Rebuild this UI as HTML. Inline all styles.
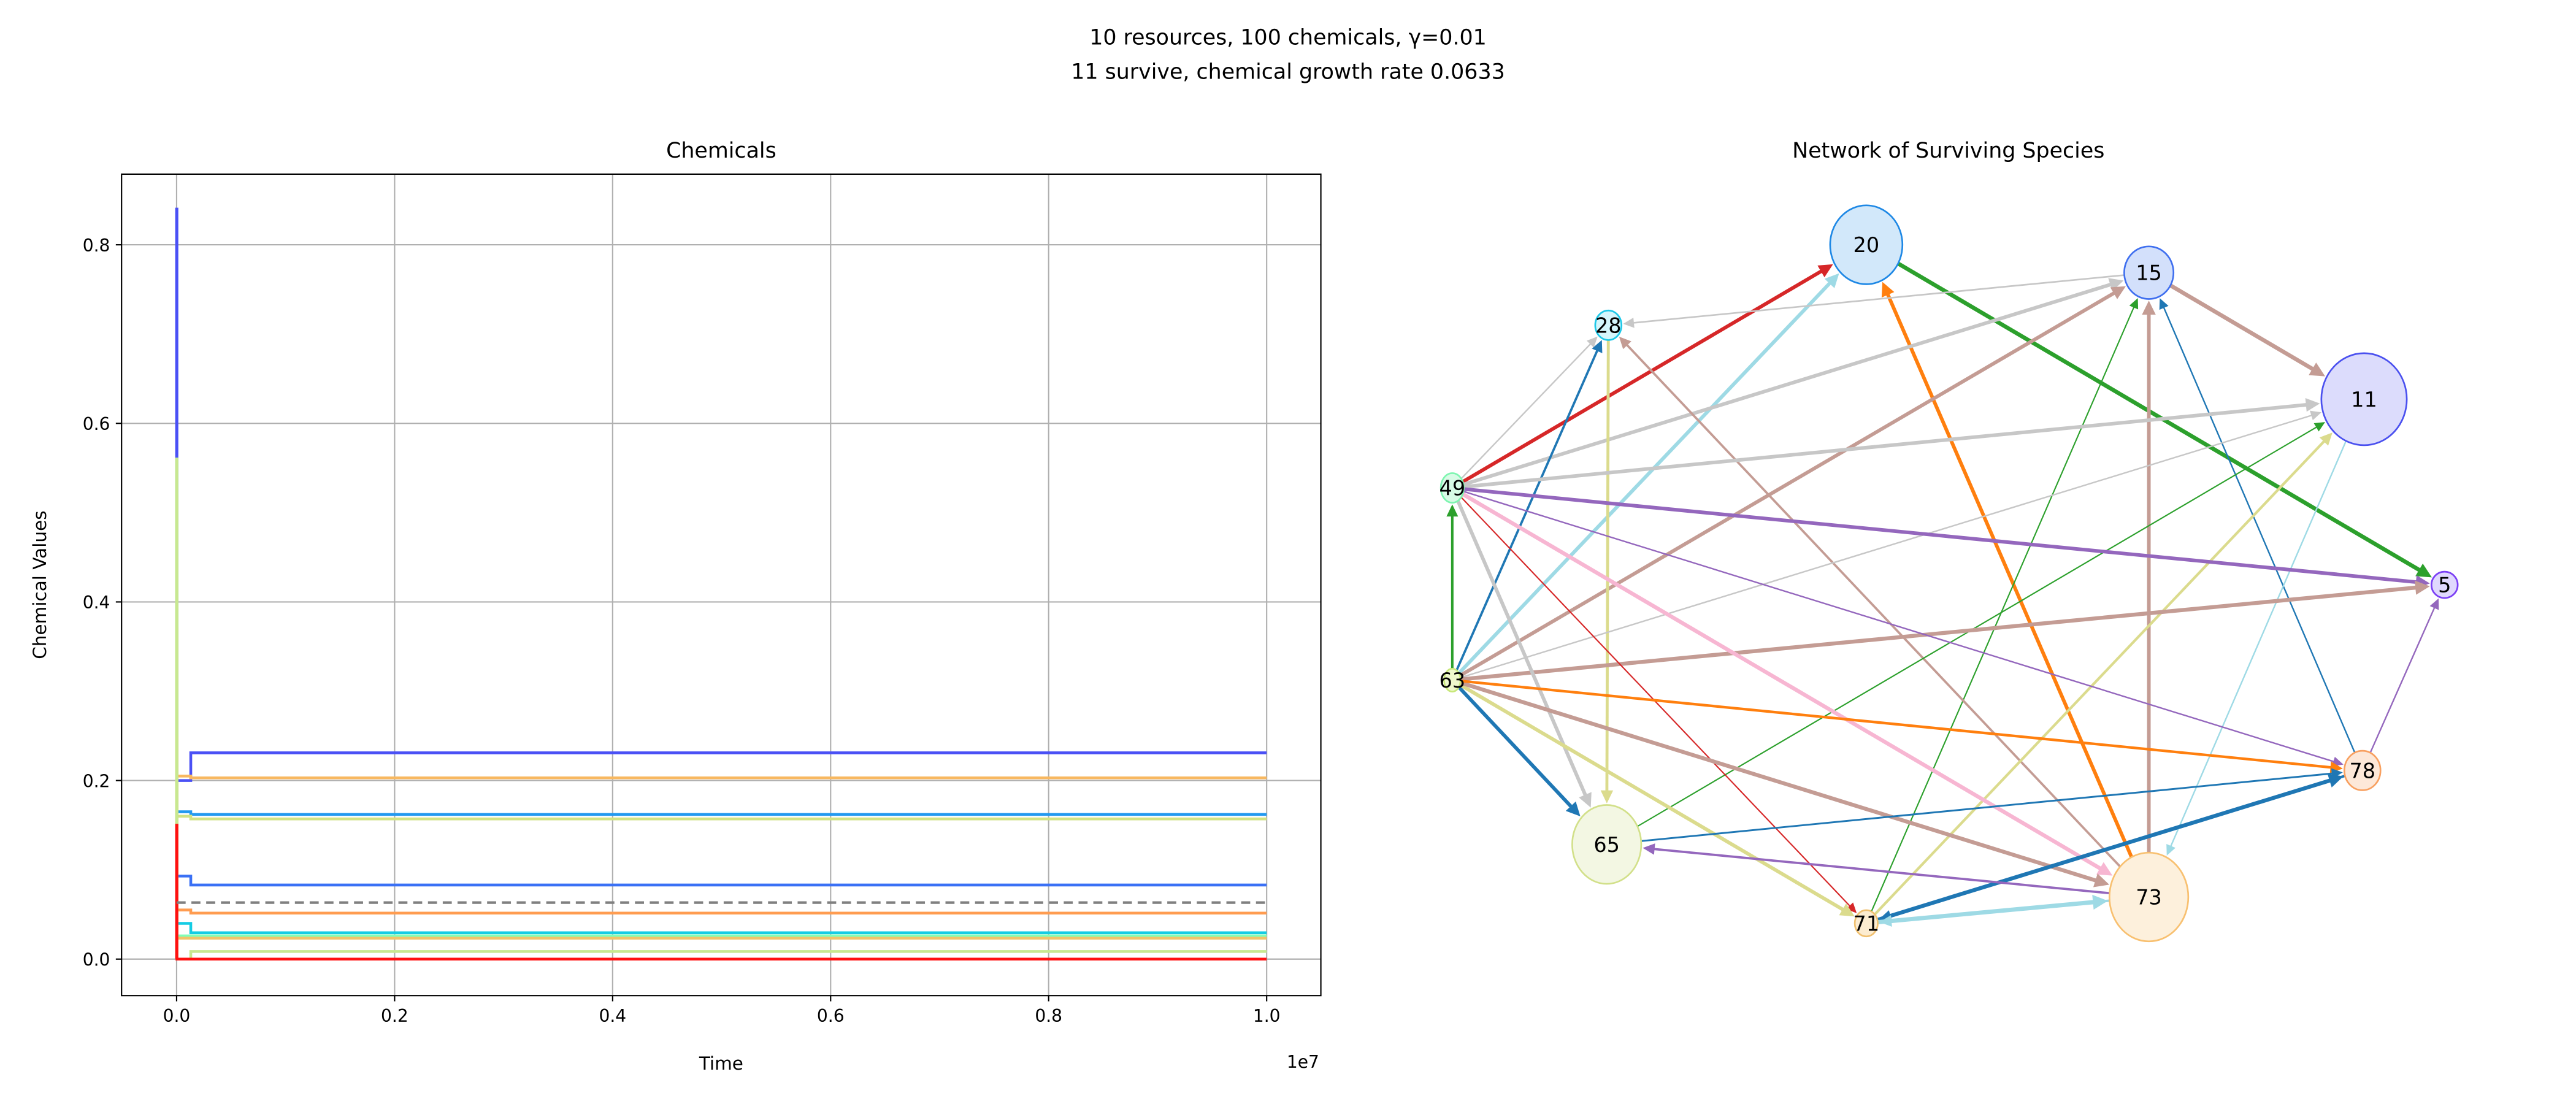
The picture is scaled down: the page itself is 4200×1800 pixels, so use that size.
<!DOCTYPE html>
<html><head><meta charset="utf-8"><style>
html,body{margin:0;padding:0;background:#fff}
svg{display:block;font-family:"DejaVu Sans","Liberation Sans",sans-serif}
</style></head><body>
<svg id="fig" width="4200" height="1800" viewBox="0 0 1568 672" xmlns="http://www.w3.org/2000/svg">
<text x="784" y="27" font-size="13" text-anchor="middle">10 resources, 100 chemicals, γ=0.01</text>
<text x="784" y="48" font-size="13" text-anchor="middle">11 survive, chemical growth rate 0.0633</text>
<text x="439" y="96" font-size="13" text-anchor="middle">Chemicals</text>
<text x="1186" y="96" font-size="13" text-anchor="middle">Network of Surviving Species</text>
<g id="grid"></g>
<g id="lines"></g>
<rect x="74" y="106" width="730" height="500" fill="none" stroke="#000" stroke-width="0.8"/>
<g id="ticks" font-size="10.5"></g>
<text x="28" y="356" font-size="11" text-anchor="middle" transform="rotate(-90 28 356)">Chemical Values</text>
<text x="439" y="651" font-size="11" text-anchor="middle">Time</text>
<text x="803" y="650" font-size="10.5" text-anchor="end">1e7</text>
<g id="edges"></g>
<g id="nodes"></g>
</svg>
<script>
const times=[0,3000,30000,130000,10000000];
const seriesColors=["#4a50f5","#f8b860","#2299f0","#d2e284","#3a70f5","#ff9c50","#14cce4","#80ffb8","#f0c46a","#c8e890","#ff1010"];
const seriesSpike=[0.84,0.45,0.30,0.52,0.09,0.37,0.10,0.56,0.25,0.56,0.15];
const seriesMid=[0.20,0.205,0.165,0.16,0.093,0.055,0.04,0.026,0.0235,0.0,0.0];
const seriesFinal=[0.231,0.203,0.162,0.157,0.083,0.0515,0.0295,0.026,0.0235,0.0085,0.0];
const refValue=0.0633;
const xTicks=[0,0.2,0.4,0.6,0.8,1.0];
const yTicks=[0.0,0.2,0.4,0.6,0.8];
const NS="http://www.w3.org/2000/svg";
const X=t=>107.5+(t/1e7)*(771-107.5);
const Y=v=>583.8-(v/0.8)*(583.8-149);
function mk(tag,attrs,parent){const e=document.createElementNS(NS,tag);for(const k in attrs)e.setAttribute(k,attrs[k]);parent.appendChild(e);return e;}
const grid=document.getElementById('grid'),ticks=document.getElementById('ticks'),lines=document.getElementById('lines');
xTicks.forEach(v=>{const x=X(v*1e7);
 const g=mk('line',{x1:x,x2:x,y1:106,y2:606,stroke:'#b0b0b0','stroke-width':0.8},grid);
 
 mk('line',{x1:x,x2:x,y1:606,y2:609.5,stroke:'#000','stroke-width':0.8},ticks);
 const t=mk('text',{x:x,y:622,'text-anchor':'middle'},ticks);t.textContent=v.toFixed(1);
 });
yTicks.forEach(v=>{const y=Y(v);
 const g=mk('line',{x1:74,x2:804,y1:y,y2:y,stroke:'#b0b0b0','stroke-width':0.8},grid);
 
 mk('line',{x1:70.5,x2:74,y1:y,y2:y,stroke:'#000','stroke-width':0.8},ticks);
 const t=mk('text',{x:67,y:y+4,'text-anchor':'end'},ticks);t.textContent=v.toFixed(1);
 });
seriesColors.forEach((c,i)=>{
 const vals=[seriesSpike[i],seriesMid[i],seriesMid[i],seriesFinal[i],seriesFinal[i]];
 let d=`M${X(times[0])},${Y(0)} L${X(times[0])},${Y(vals[0])}`;
 for(let k=1;k<times.length;k++){d+=` L${X(times[k])},${Y(vals[k-1])} L${X(times[k])},${Y(vals[k])}`;}
 const p=mk('path',{d:d,fill:'none',stroke:c,'stroke-width':1.7},lines);
 });
const rl=mk('line',{x1:X(0),x2:X(1e7),y1:Y(refValue),y2:Y(refValue),stroke:'#808080','stroke-width':1.6,'stroke-dasharray':'5.5,3.5'},lines);


const nodes={
 20:[1136,149,22,24,"#d2e8fa","#1e88e5"],15:[1308,166,15,16,"#d3e0fb","#3f6fef"],
 28:[979,198,8,9,"#d4f6fc","#1ec8e8"],11:[1439,243,26,28,"#dcdcfc","#4a50ef"],
 49:[884,297,7,9,"#d8fbe6","#7ef5b0"],5:[1488,356,8,8,"#e0d8fe","#7b3ff5"],
 63:[884,414,5,7,"#eef8cc","#c8e87a"],78:[1438,469,11,12,"#fde8d8","#f8a060"],
 65:[978,514,21,24,"#f3f7e3","#d2e08a"],73:[1308,546,24,27,"#fdf0dc","#f8c070"],
 71:[1136,562,7,8,"#fcecd0","#f0c070"]};
const edges=[
 [49,20,"#d62728",2.2],[63,20,"#9edae5",2.2],[20,5,"#2ca02c",2.5],[73,20,"#ff7f0e",2.2],
 [15,28,"#c7c7c7",1],[49,15,"#c7c7c7",2.2],[63,15,"#c49c94",2.2],[15,11,"#c49c94",2.5],
 [73,15,"#c49c94",2.2],[71,15,"#2ca02c",0.8],[78,15,"#1f77b4",0.9],[49,28,"#c7c7c7",0.9],
 [63,28,"#1f77b4",1.4],[73,28,"#c49c94",1.4],[28,65,"#dbdb8d",1.8],[49,11,"#c7c7c7",2.2],
 [63,11,"#c7c7c7",0.9],[65,11,"#2ca02c",0.8],[71,11,"#dbdb8d",1.6],[11,73,"#9edae5",0.9],
 [49,5,"#9467bd",2.2],[63,5,"#c49c94",2.4],[78,5,"#9467bd",0.9],[49,78,"#9467bd",0.9],
 [49,71,"#d62728",0.8],[49,73,"#f7b6d2",2.4],[49,65,"#c7c7c7",2.2],[63,49,"#2ca02c",1.5],
 [63,65,"#1f77b4",2.2],[63,71,"#dbdb8d",2.2],[63,73,"#c49c94",2.4],[63,78,"#ff7f0e",1.6],
 [65,78,"#1f77b4",1.1],[71,78,"#1f77b4",2.4],[78,71,"#1f77b4",1.5],[73,65,"#9467bd",1.4],
 [71,73,"#9edae5",2.6],[73,71,"#9edae5",1.5]];
const eg=document.getElementById('edges'),ng=document.getElementById('nodes');
function rad(n,ux,uy){const [,, rx,ry]=nodes[n];return 1/Math.sqrt((ux*ux)/(rx*rx)+(uy*uy)/(ry*ry));}
edges.forEach(([a,b,c,w])=>{
 const [x1,y1]=nodes[a],[x2,y2]=nodes[b];const dx=x2-x1,dy=y2-y1,L=Math.hypot(dx,dy),ux=dx/L,uy=dy/L;
 const ra=rad(a,ux,uy),rb=rad(b,ux,uy)+1;
 const sx=x1+ux*ra,sy=y1+uy*ra,tx=x2-ux*rb,ty=y2-uy*rb;
 const hl=5+w*1.6,hw=2.2+w*0.9;const bx=tx-ux*hl,by=ty-uy*hl;
 const l=mk('line',{x1:sx,y1:sy,x2:bx+ux*1,y2:by+uy*1,stroke:c,'stroke-width':w},eg);
 
 const h=mk('polygon',{points:`${tx},${ty} ${bx-uy*hw},${by+ux*hw} ${bx+uy*hw},${by-ux*hw}`,fill:c},eg);
 });
Object.keys(nodes).forEach(k=>{const [x,y,rx,ry,f,s]=nodes[k];
 const e=mk('ellipse',{cx:x,cy:y,rx:rx,ry:ry,fill:f,stroke:s,'stroke-width':1},ng);
 
 const t=mk('text',{x:x,y:y+4.5,'font-size':12.5,'text-anchor':'middle'},ng);t.textContent=k;
 });
</script>
</body></html>
